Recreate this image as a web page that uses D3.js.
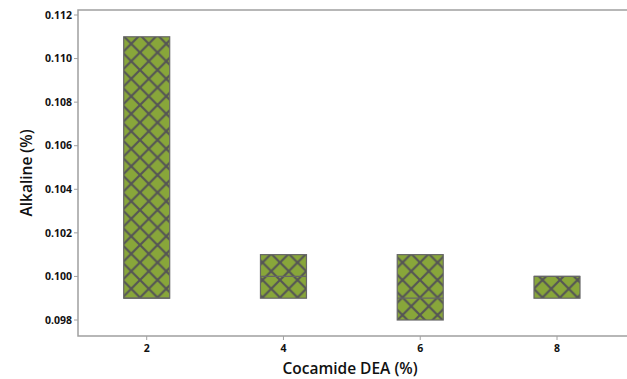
<html>
<head>
<meta charset="utf-8">
<script src="https://d3js.org/d3.v7.min.js"></script>
<style>
  body { margin: 0; background: #fff; }
  text { font-family: "Open Sans", "Noto Sans", sans-serif; fill: #111; }
</style>
</head>
<body>
<script>
// Cocamide DEA levels and box summaries
var levels = [2, 4, 6, 8];
var q1     = [0.099, 0.099, 0.098, 0.099];
var median = [0.099, 0.100, 0.099, 0.100];
var q3     = [0.111, 0.101, 0.101, 0.100];
var yTicks = [0.098, 0.100, 0.102, 0.104, 0.106, 0.108, 0.110, 0.112];

var W = 627, H = 379;
var frame = {left: 78, top: 10, bottom: 336};

var svg = d3.select("body").append("svg")
    .attr("width", W).attr("height", H);

var x = d3.scaleLinear().domain([2, 8]).range([146.7, 557]);
var y = d3.scaleLinear().domain([0.098, 0.112]).range([320, 15]);

// crosshatch pattern
var defs = svg.append("defs");
var pat = defs.append("pattern")
    .attr("id", "hatch")
    .attr("patternUnits", "userSpaceOnUse")
    .attr("width", 17.5).attr("height", 17.5);
pat.append("rect").attr("width", 17.5).attr("height", 17.5).attr("fill", "#88a63a");
pat.append("path")
    .attr("d", "M-2,-2 L19.5,19.5 M-2,19.5 L19.5,-2")
    .attr("stroke", "#555").attr("stroke-width", 2.2);

// frame
svg.append("path")
    .attr("d", "M" + W + "," + frame.top + " H" + frame.left + " V" + frame.bottom + " H" + W)
    .attr("fill", "none").attr("stroke", "#a0a0a0").attr("stroke-width", 1.5);

// y ticks
var yt = svg.append("g");
yTicks.forEach(function(t) {
  yt.append("line").attr("x1", frame.left - 4).attr("x2", frame.left)
    .attr("y1", y(t)).attr("y2", y(t)).attr("stroke", "#a0a0a0");
  yt.append("text").attr("x", frame.left - 6).attr("y", y(t)).attr("dy", "0.35em")
    .attr("text-anchor", "end").style("font-size", "10.5px").style("font-weight", 700)
    .text(d3.format(".3f")(t));
});

// x ticks
var xt = svg.append("g");
levels.forEach(function(t) {
  xt.append("line").attr("y1", frame.bottom).attr("y2", frame.bottom + 4)
    .attr("x1", x(t)).attr("x2", x(t)).attr("stroke", "#a0a0a0");
  xt.append("text").attr("x", x(t)).attr("y", 348).attr("dy", "0.35em")
    .attr("text-anchor", "middle").style("font-size", "10.5px").style("font-weight", 700)
    .text(t);
});

// boxes
var bw = 46;
levels.forEach(function(lv, i) {
  var g = svg.append("g");
  g.append("rect")
    .attr("x", x(lv) - bw / 2).attr("width", bw)
    .attr("y", y(q3[i])).attr("height", y(q1[i]) - y(q3[i]))
    .attr("fill", "url(#hatch)")
    .attr("stroke", "#666").attr("stroke-width", 1.2);
  g.append("line")
    .attr("x1", x(lv) - bw / 2).attr("x2", x(lv) + bw / 2)
    .attr("y1", y(median[i])).attr("y2", y(median[i]))
    .attr("stroke", "#666").attr("stroke-width", 1.2);
});

// axis titles
svg.append("text").attr("x", 350).attr("y", 369).attr("dy", "0.35em")
  .attr("text-anchor", "middle").style("font-size", "15.5px").style("font-weight", 600)
  .text("Cocamide DEA (%)");
svg.append("text")
  .attr("transform", "translate(27,173) rotate(-90)").attr("dy", "0.35em")
  .attr("text-anchor", "middle").style("font-size", "15.5px").style("font-weight", 600)
  .text("Alkaline (%)");
</script>
</body>
</html>
